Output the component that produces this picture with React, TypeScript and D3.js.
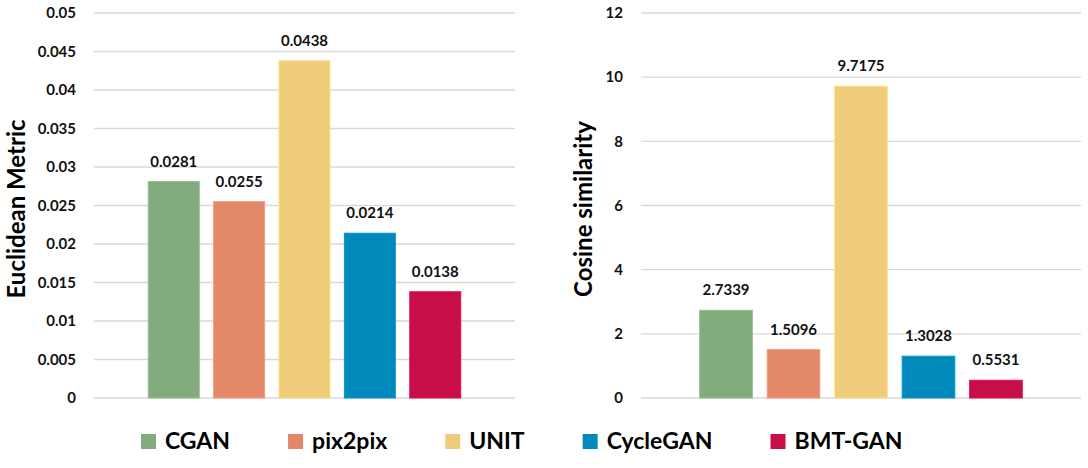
import { useEffect, useRef } from "react"
import * as d3 from "d3"

const series = ["CGAN", "pix2pix", "UNIT", "CycleGAN", "BMT-GAN"]
const colors = ["#82AB7E", "#E3896A", "#EFCC79", "#0089BA", "#C70E49"]
const euclidean = [0.0281, 0.0255, 0.0438, 0.0214, 0.0138]
const cosine = [2.7339, 1.5096, 9.7175, 1.3028, 0.5531]
const euclideanTicks = [0, 0.005, 0.01, 0.015, 0.02, 0.025, 0.03, 0.035, 0.04, 0.045, 0.05]
const cosineTicks = [0, 2, 4, 6, 8, 10, 12]

const W = 1088
const H = 468
const FONT = "Lato, 'Open Sans', sans-serif"

interface PanelProps {
  values: number[]
  ticks: number[]
  x0: number
  x1: number
  title: string
  titleX: number
  paddingOuter: number
}

function Panel({ values, ticks, x0, x1, title, titleX, paddingOuter }: PanelProps) {
  const y = d3.scaleLinear()
    .domain([0, d3.max(ticks) as number])
    .range([398, 13])

  const x = d3.scaleBand<string>()
    .domain(series)
    .range([x0, x1])
    .paddingInner(0.22)
    .paddingOuter(paddingOuter)

  // title sits a little below the middle of the plot, as in the source
  const titleY = (y.range()[0] + y.range()[1]) / 2 + 3.5

  return (
    <g>
      {ticks.map((t) => (
        <g key={t}>
          <line x1={x0} x2={x1} y1={y(t)} y2={y(t)} stroke="#D9D9D9" strokeWidth={1.3} />
          <text
            x={x0 - 18}
            y={y(t)}
            dy="0.35em"
            textAnchor="end"
            fontFamily={FONT}
            fontWeight={700}
            fontSize={15}
            fill="#111"
          >
            {String(+t.toFixed(3))}
          </text>
        </g>
      ))}
      {values.map((v, i) => (
        <g key={series[i]}>
          <rect
            x={x(series[i])}
            y={y(v)}
            width={x.bandwidth()}
            height={y(0) - y(v)}
            fill={colors[i]}
            stroke={d3.color(colors[i])?.brighter(0.3).formatHex()}
            strokeWidth={1}
          />
          <text
            x={(x(series[i]) as number) + x.bandwidth() / 2}
            y={y(v) - 15}
            textAnchor="middle"
            fontFamily={FONT}
            fontWeight={700}
            fontSize={15}
            fill="#111"
          >
            {v.toFixed(4)}
          </text>
        </g>
      ))}
      <text
        transform={`translate(${titleX}, ${titleY}) rotate(-90)`}
        textAnchor="middle"
        dy="0.35em"
        fontFamily={FONT}
        fontWeight={700}
        fontSize={24}
        fill="#000"
      >
        {title}
      </text>
    </g>
  )
}

export default function App() {
  const legendRef = useRef<SVGGElement>(null)

  useEffect(() => {
    if (!legendRef.current) return
    const g = d3.select(legendRef.current)
    g.selectAll("*").remove()

    let cx = 141
    series.forEach((name, i) => {
      g.append("rect")
        .attr("x", cx)
        .attr("y", 434)
        .attr("width", 15)
        .attr("height", 15)
        .attr("fill", colors[i])
      const t = g.append("text")
        .attr("x", cx + 24)
        .attr("y", 449)
        .attr("font-family", FONT)
        .attr("font-weight", 700)
        .attr("font-size", 23)
        .attr("fill", "#000")
        .text(name)
      const w = (t.node() as SVGTextElement).getComputedTextLength()
      cx += 24 + w + 58
    })
  }, [])

  return (
    <svg
      width={W}
      height={H}
      style={{ position: "absolute", left: 0, top: 0, background: "#fff" }}
    >
      <Panel
        values={euclidean}
        ticks={euclideanTicks}
        x0={94}
        x1={515}
        title="Euclidean Metric"
        titleX={17}
        paddingOuter={0.83}
      />
      <Panel
        values={cosine}
        ticks={cosineTicks}
        x0={641}
        x1={1081}
        title="Cosine similarity"
        titleX={584}
        paddingOuter={0.87}
      />
      <g ref={legendRef} />
    </svg>
  )
}
